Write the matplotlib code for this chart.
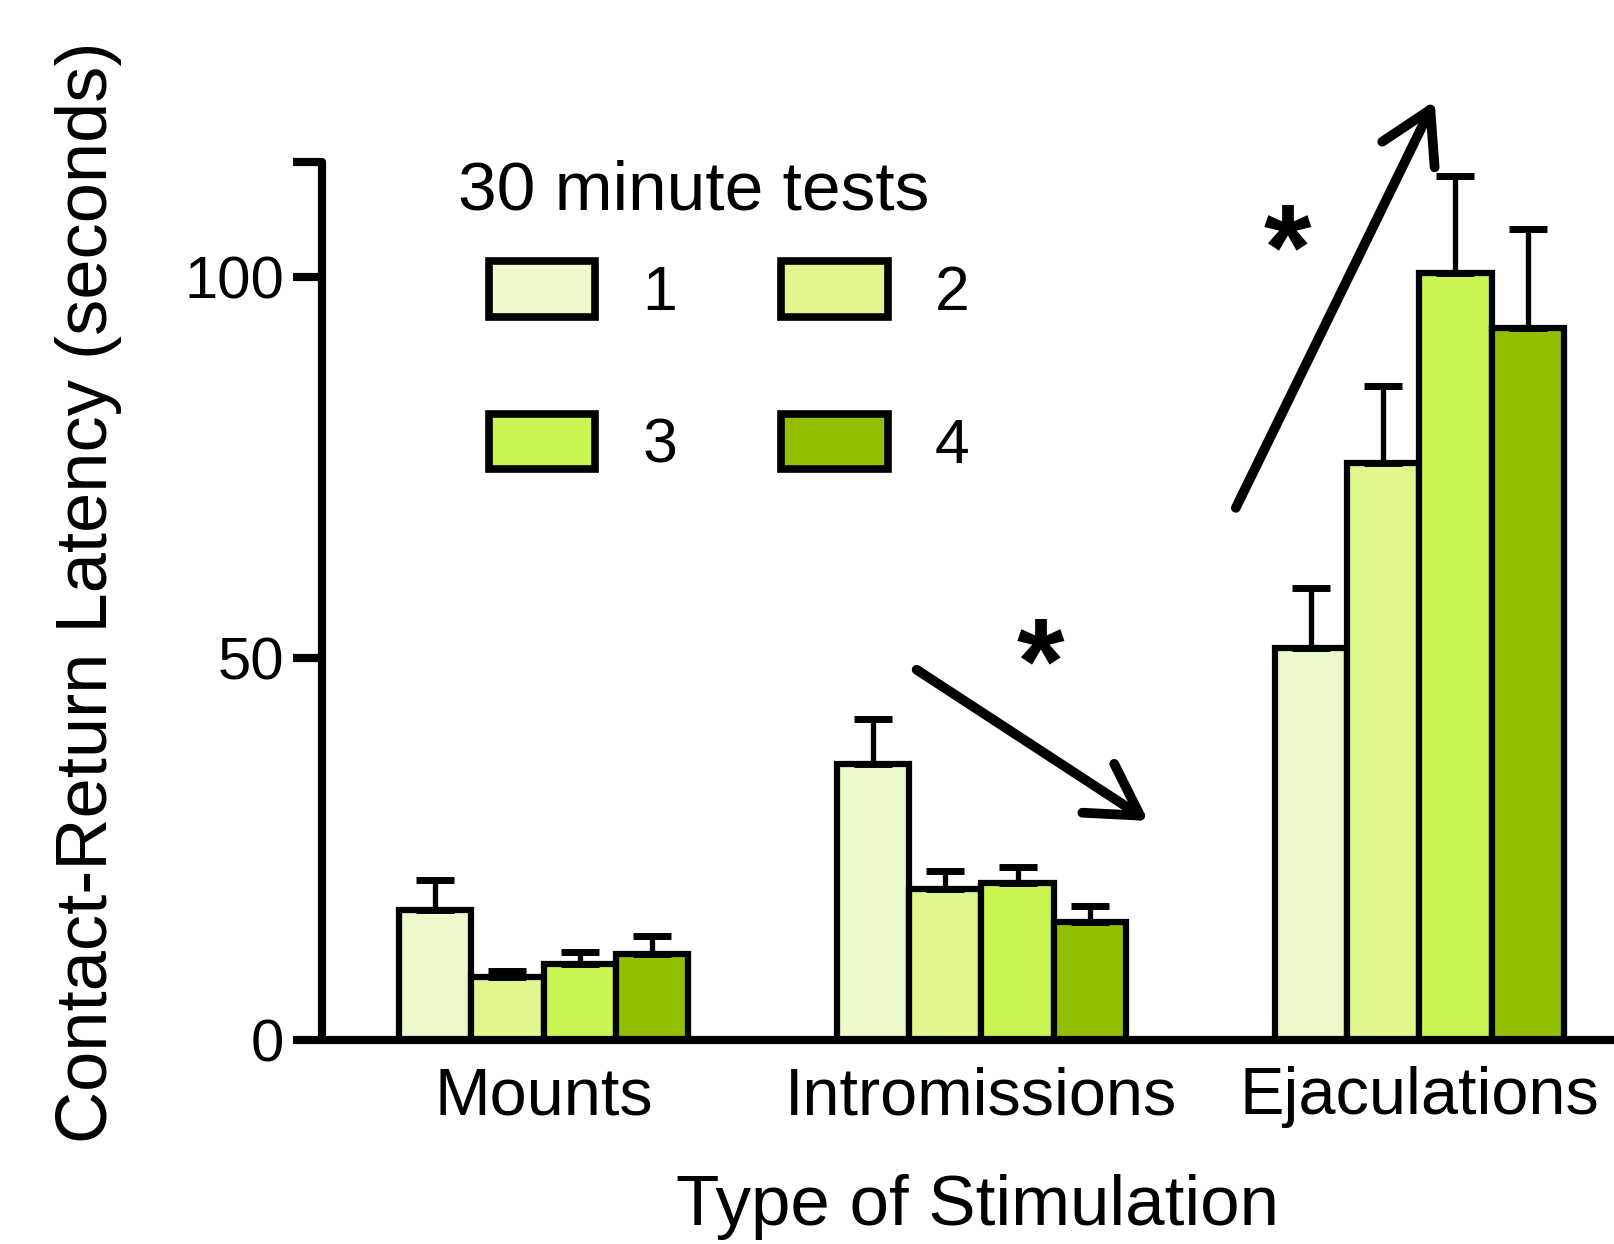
import matplotlib
matplotlib.use('Agg')
import matplotlib.pyplot as plt
from matplotlib.patches import Patch
import numpy as np

plt.rcParams['font.family'] = ['Liberation Sans', 'DejaVu Sans']

# ---- data ----
categories = ['Mounts', 'Intromissions', 'Ejaculations']
test_labels = ['1', '2', '3', '4']
test1_mean = [17.0, 36.2, 51.4]
test2_mean = [8.2, 19.8, 75.6]
test3_mean = [9.9, 20.5, 100.5]
test4_mean = [11.2, 15.5, 93.3]
test1_err = [4.0, 5.8, 7.8]
test2_err = [0.9, 2.3, 10.1]
test3_err = [1.6, 2.1, 12.7]
test4_err = [2.4, 2.0, 12.9]
colors = ['#ECFACB', '#E0F790', '#CBF551', '#92BF00']
ytick_values = [0, 50, 100, 115]
ytick_labels = ['0', '50', '100', '']
legend_title = '30 minute tests'
xlabel = 'Type of Stimulation'
ylabel = 'Contact-Return Latency (seconds)'

means = [test1_mean, test2_mean, test3_mean, test4_mean]
errs = [test1_err, test2_err, test3_err, test4_err]

W, H = 1615, 1244
fig = plt.figure(figsize=(W / 100, H / 100), dpi=100)
ax = fig.add_axes([322 / W, 1 - 1040 / H, 1 - 322 / W, (1040 - 162) / H])

x = np.arange(len(categories))
bw = 0.165
for i in range(4):
    pos = x + (i - 1.5) * bw
    ax.bar(pos, means[i], width=bw, color=colors[i], edgecolor='black',
           linewidth=4.5, zorder=2)
    eb = ax.errorbar(pos, means[i], yerr=[np.zeros(3), errs[i]], fmt='none',
                     ecolor='black', elinewidth=3.8, capsize=13.5, capthick=5.0,
                     zorder=3)
    for cap in eb[1]:
        cap.set_solid_capstyle('round')

ax.set_xlim(-0.506, 2.447)
ax.set_ylim(0, 115)
ax.set_xticks(x)
ax.set_xticklabels(categories, fontsize=48)
ax.set_yticks(ytick_values)
ax.set_yticklabels(ytick_labels, fontsize=43)
ax.tick_params(axis='x', length=0, pad=19)
ax.tick_params(axis='y', length=21, width=5.9, pad=6, direction='out')
for s in ['top', 'right']:
    ax.spines[s].set_visible(False)
for s in ['left', 'bottom']:
    ax.spines[s].set_linewidth(5.9)
    ax.spines[s].set_capstyle('round')

ax.set_xlabel(xlabel, fontsize=51)
ax.xaxis.set_label_coords((978 - 322) / 1293, (1040 - 1174) / 878)
ax.set_ylabel(ylabel, fontsize=52)
ax.yaxis.set_label_coords((122 - 322) / 1293, (1040 - 592) / 878)

# legend (row-wise order: 1 2 / 3 4)
handles = [Patch(facecolor=c, edgecolor='black', linewidth=5.5) for c in colors]
order = [0, 2, 1, 3]
leg = ax.legend([handles[k] for k in order], [test_labels[k] for k in order],
                ncol=2, frameon=False, fontsize=45,
                loc='upper left', bbox_to_anchor=(489 / W, 1 - 261 / H),
                bbox_transform=fig.transFigure, borderpad=0, borderaxespad=0,
                handlelength=1.70, handleheight=0.99, handletextpad=0.75,
                columnspacing=1.67, labelspacing=1.445)
fig.text(458 / W, 1 - 191 / H, legend_title, fontsize=50, ha='left', va='center')

# significance arrows
arrow_kw = dict(arrowstyle='->,head_length=1.8,head_width=1.05', lw=7,
                color='black', mutation_scale=20, shrinkA=0, shrinkB=0)
ax.annotate('', xy=(1.381, 28.7), xytext=(0.852, 48.5), arrowprops=arrow_kw,
            annotation_clip=False)
ax.annotate('', xy=(2.035, 123.0), xytext=(1.581, 69.7), arrowprops=arrow_kw,
            annotation_clip=False)
ax.text(1.134, 48.4, '*', fontsize=88, fontweight='bold', ha='center', va='center')
ax.text(1.699, 102.7, '*', fontsize=88, fontweight='bold', ha='center', va='center')

fig.savefig('out.png', dpi=100)
